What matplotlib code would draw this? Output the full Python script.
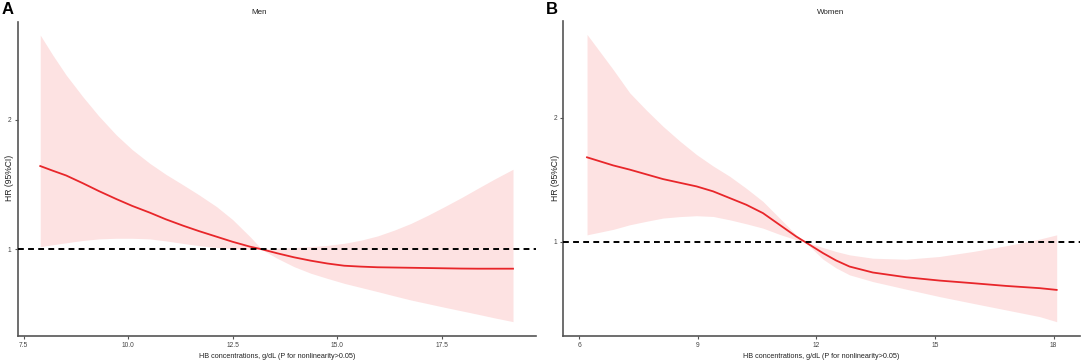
import matplotlib
matplotlib.use("Agg")
import matplotlib.pyplot as plt

# ---- Data ----
men_x     = [7.90, 8.20, 8.52, 8.92, 9.30, 9.72, 10.10, 10.52, 10.90, 11.32, 11.70, 12.12, 12.50, 12.92, 13.20,
             13.57, 13.97, 14.37, 14.77, 15.17, 15.57, 15.97, 16.37, 16.77, 17.17, 17.57, 17.97, 18.37, 18.77, 19.21]
men_hr    = [1.643, 1.607, 1.570, 1.510, 1.450, 1.388, 1.335, 1.283, 1.232, 1.182, 1.140, 1.097, 1.058, 1.020, 1.000,
             0.969, 0.938, 0.912, 0.890, 0.873, 0.866, 0.861, 0.859, 0.857, 0.855, 0.853, 0.851, 0.850, 0.850, 0.850]
men_upper = [2.655, 2.500, 2.346, 2.178, 2.030, 1.883, 1.770, 1.664, 1.580, 1.497, 1.420, 1.329, 1.230, 1.097, 1.000,
             1.008, 1.013, 1.020, 1.030, 1.046, 1.070, 1.103, 1.148, 1.200, 1.262, 1.329, 1.398, 1.471, 1.543, 1.618]
men_lower = [1.020, 1.035, 1.050, 1.068, 1.080, 1.085, 1.085, 1.080, 1.065, 1.045, 1.028, 1.013, 1.005, 1.001, 0.998,
             0.930, 0.866, 0.815, 0.775, 0.737, 0.705, 0.673, 0.640, 0.608, 0.580, 0.552, 0.525, 0.498, 0.470, 0.441]

women_x     = [6.20, 6.86, 7.28, 7.70, 8.12, 8.55, 8.97, 9.39, 9.81, 10.23, 10.65, 11.07, 11.49, 11.71, 12.17,
               12.50, 12.84, 13.43, 14.27, 15.12, 15.96, 16.80, 17.65, 18.08]
women_hr    = [1.680, 1.615, 1.581, 1.543, 1.505, 1.475, 1.446, 1.406, 1.352, 1.298, 1.231, 1.137, 1.043, 1.000, 0.909,
               0.850, 0.801, 0.753, 0.715, 0.688, 0.667, 0.645, 0.627, 0.613]
women_upper = [2.669, 2.387, 2.199, 2.060, 1.930, 1.810, 1.702, 1.610, 1.527, 1.430, 1.325, 1.191, 1.056, 1.000, 0.954,
               0.922, 0.895, 0.868, 0.860, 0.882, 0.922, 0.968, 1.022, 1.056]
women_lower = [1.056, 1.100, 1.137, 1.165, 1.191, 1.203, 1.210, 1.204, 1.177, 1.145, 1.110, 1.060, 1.016, 1.000, 0.860,
               0.790, 0.734, 0.680, 0.619, 0.559, 0.505, 0.452, 0.398, 0.357]

men_xticks = [7.5, 10.0, 12.5, 15.0, 17.5]
men_xticklabels = ["7.5", "10.0", "12.5", "15.0", "17.5"]
women_xticks = [6, 9, 12, 15, 18]
women_xticklabels = ["6", "9", "12", "15", "18"]
yticks = [1, 2]
yticklabels = ["1", "2"]

titles = ["Men", "Women"]
panel_labels = ["A", "B"]
xlabel = "HB concentrations, g/dL (P for nonlinearity>0.05)"
ylabel = "HR (95%CI)"

W, H = 1084, 364
fig = plt.figure(figsize=(W / 100, H / 100), dpi=100)
plt.rcParams['font.family'] = ['Liberation Sans Narrow', 'Liberation Sans', 'DejaVu Sans']

def ax_rect(x0, x1, ytop, ybot):
    return [x0 / W, 1 - ybot / H, (x1 - x0) / W, (ybot - ytop) / H]

specs = [
    dict(rect=ax_rect(17.5, 536, 21.7, 336), x=men_x, hr=men_hr, up=men_upper, lo=men_lower,
         xlim=(7.356, 19.76), ylim=(0.330, 2.758), xt=men_xticks, xtl=men_xticklabels,
         title_x=258.7, lab_x=2, ylab_x=10),
    dict(rect=ax_rect(563.3, 1080, 21.0, 336), x=women_x, hr=women_hr, up=women_upper, lo=women_lower,
         xlim=(5.60, 18.67), ylim=(0.242, 2.777), xt=women_xticks, xtl=women_xticklabels,
         title_x=831, lab_x=546, ylab_x=555),
]

spine_col = "#555555"
for i, s in enumerate(specs):
    ax = fig.add_axes(s["rect"])
    ax.fill_between(s["x"], s["lo"], s["up"], color="#FDE2E2", linewidth=0, zorder=1)
    ax.plot(s["x"], s["hr"], color="#E8262A", linewidth=1.3, zorder=3, solid_joinstyle="round")
    ax.axhline(1.0, color="black", linestyle=(0, (3, 2.2)), linewidth=1.4, zorder=4)
    ax.set_xlim(*s["xlim"])
    ax.set_ylim(*s["ylim"])
    ax.set_xticks(s["xt"])
    ax.set_xticklabels(s["xtl"])
    ax.set_yticks(yticks)
    ax.set_yticklabels(yticklabels)
    for sp in ["top", "right"]:
        ax.spines[sp].set_visible(False)
    for sp in ["left", "bottom"]:
        ax.spines[sp].set_color(spine_col)
        ax.spines[sp].set_linewidth(1.2)
    ax.tick_params(axis="both", length=2, width=0.8, color=spine_col, labelsize=4.8,
                   labelcolor="#444444", pad=2.5)
    ax.set_xlabel(xlabel, fontsize=5.2, color="#222222", labelpad=2.5)
    fig.text(s["title_x"] / W, 1 - 12.7 / H, titles[i], ha="center", va="center",
             fontsize=5.8, color="#222222")
    fig.text(s["lab_x"] / W, 1 - 10 / H, panel_labels[i], ha="left", va="center",
             fontsize=12, fontweight="bold", family=['Liberation Sans', 'DejaVu Sans'])
    fig.text(s["ylab_x"] / W, 1 - 178 / H, ylabel, ha="center", va="center", rotation=90,
             fontsize=6.2, color="#222222")

fig.savefig("out.png", dpi=100)
